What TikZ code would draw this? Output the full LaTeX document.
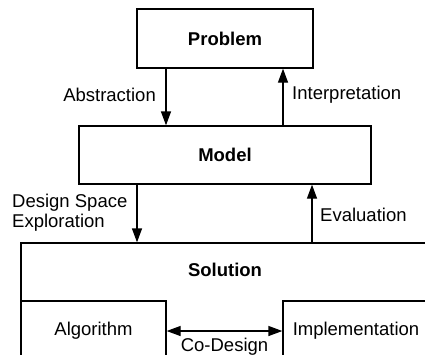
\documentclass[tikz,border=0pt]{standalone}
\usepackage{fontspec}
\setmainfont{Liberation Sans}
\usetikzlibrary{arrows.meta}
\begin{document}
\begin{tikzpicture}[x=1pt,y=-1pt,
  box/.style={draw, line width=1.3pt, inner sep=0pt},
  txt/.style={inner sep=0pt, font=\fontsize{18.5}{20}\selectfont},
  btxt/.style={inner sep=0pt, font=\fontsize{18.5}{20}\selectfont\bfseries},
  conn/.style={line width=1.3pt, -{Triangle[length=14pt,width=10pt]}},
  biconn/.style={line width=1.3pt, {Triangle[length=14pt,width=10pt]}-{Triangle[length=14pt,width=10pt]}}]
\useasboundingbox (0,0) rectangle (425,354);
\clip (0,0) rectangle (425,354);
% boxes
\node[box, minimum width=176pt, minimum height=59pt] (prob) at (225,38.5) {};
\node[btxt] at (prob.center) {Problem};
\node[box, minimum width=292pt, minimum height=58pt] (model) at (225,155) {};
\node[btxt] at (model.center) {Model};
\node[box, minimum width=424pt, minimum height=137pt] (sol) at (233,311.5) {};
\node[btxt] at (225,270) {Solution};
\node[box, minimum width=145pt, minimum height=79pt] (alg) at (93.5,340.5) {};
\node[txt] at (93.5,331) {Algorithm};
\node[box, minimum width=162pt, minimum height=79pt] (impl) at (364,340.5) {};
\node[txt] at (356,331) {Implementation};
% connector columns
\coordinate (cA) at (166,0);
\coordinate (cI) at (283,0);
\coordinate (cD) at (137,0);
\coordinate (cE) at (312,0);
\coordinate (cC) at (0,331);
\draw[conn] (prob.south -| cA) -- (model.north -| cA);
\draw[conn] (model.north -| cI) -- (prob.south -| cI);
\draw[conn] (model.south -| cD) -- (sol.north -| cD);
\draw[conn] (sol.north -| cE) -- (model.south -| cE);
\draw[biconn] (alg.east |- cC) -- (impl.west |- cC);
% labels
\node[txt, anchor=east] at (156,95) {Abstraction};
\node[txt, anchor=west] at (292,95) {Interpretation};
\node[txt, anchor=west, align=left] at (12,213) {Design Space\\Exploration};
\node[txt, anchor=west] at (320,215) {Evaluation};
\node[txt] at (224.5,347) {Co-Design};
\end{tikzpicture}
\end{document}
